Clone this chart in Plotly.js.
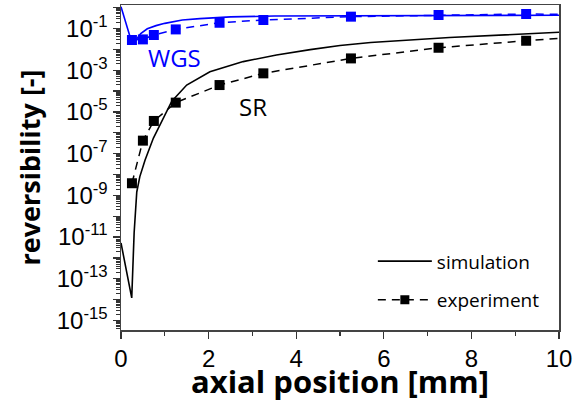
<!DOCTYPE html>
<html>
<head>
<meta charset="utf-8">
<script src="https://cdn.plot.ly/plotly-3.0.1.min.js"></script>
<style>html,body{margin:0;padding:0;background:#fff;}#chart{width:575px;height:402px;}</style>
</head>
<body>
<div id="chart"></div>
<script>
// WGS (blue)
var wgsSimX = [0, 0.26, 0.33, 0.45, 0.6, 0.8, 1.0, 1.4, 1.8, 2.5, 3.5, 5, 7, 10];
var wgsSimY = [1.12, 0.017, 0.026, 0.058, 0.098, 0.138, 0.178, 0.257, 0.30, 0.363, 0.398, 0.41, 0.42, 0.435];
var wgsExpX = [0.25, 0.5, 0.75, 1.25, 2.25, 3.25, 5.25, 7.25, 9.25, 10];
var wgsExpY = [0.0282, 0.0302, 0.049, 0.091, 0.19, 0.257, 0.372, 0.447, 0.50, 0.48];
// SR (black)
var srSimX = [0, 0.245, 0.3, 0.36, 0.43, 0.55, 0.74, 0.97, 1.16, 1.5, 2.03, 2.79, 3.55, 4.32, 5.0, 5.7, 7.5, 10];
var srSimY = [5.2e-12, 1.2e-14, 1.6e-11, 1.45e-9, 7.9e-9, 5.0e-8, 5.6e-7, 5.1e-6, 3.3e-5, 1.95e-4, 8.5e-4, 2.6e-3, 5.4e-3, 9.8e-3, 1.53e-2, 2.14e-2, 3.7e-2, 6.6e-2];
var srExpX = [0.25, 0.5, 0.75, 1.25, 2.25, 3.25, 5.25, 7.25, 9.25, 10];
var srExpY = [3.8e-9, 4.2e-7, 3.7e-6, 2.8e-5, 1.95e-4, 7.1e-4, 3.7e-3, 1.2e-2, 2.6e-2, 3.4e-2];
// which experiment points carry a marker (last point is only the dashed line end)
var expHasMarker = [1, 1, 1, 1, 1, 1, 1, 1, 1, 0];
// y tick labels
var yTickExp = [0, -1, -2, -3, -4, -5, -6, -7, -8, -9, -10, -11, -12, -13, -14, -15];
var yTickLabel = ['', '10<sup>-1</sup>', '', '10<sup>-3</sup>', '', '10<sup>-5</sup>', '', '10<sup>-7</sup>', '', '10<sup>-9</sup>', '', '10<sup>-11</sup>', '', '10<sup>-13</sup>', '', '10<sup>-15</sup>'];

var BLUE = '#0000ff';
var msz = expHasMarker.map(function (m) { return m ? 10 : 0; });
var yTickVals = yTickExp.map(function (e) { return Math.pow(10, e); });
var minorVals = [];
for (var k = -16; k <= 0; k++) { for (var m = 2; m <= 9; m++) { minorVals.push(m * Math.pow(10, k)); } }

var traces = [
  {x: srSimX, y: srSimY, mode: 'lines', name: 'simulation', line: {color: '#000', width: 1.6}, legendgroup: 'a'},
  {x: srExpX, y: srExpY, mode: 'lines+markers', name: 'experiment', line: {color: '#000', width: 1.5, dash: '8px,6px'},
   marker: {symbol: 'square', size: msz, color: '#000', opacity: 1, line: {width: 0}}, legendgroup: 'b'},
  {x: wgsSimX, y: wgsSimY, mode: 'lines', name: 'WGS simulation', showlegend: false, line: {color: BLUE, width: 1.6}},
  {x: wgsExpX, y: wgsExpY, mode: 'lines+markers', name: 'WGS experiment', showlegend: false,
   line: {color: BLUE, width: 1.5, dash: '8px,6px'}, marker: {symbol: 'square', size: msz, color: BLUE, opacity: 1, line: {width: 0}}}
];

var tickFont = {family: 'Liberation Sans, Arial, sans-serif', size: 24, color: '#000'};
var layout = {
  width: 575, height: 402,
  margin: {l: 121, r: 16, t: 5, b: 72},
  paper_bgcolor: '#fff', plot_bgcolor: '#fff',
  showlegend: true,
  legend: {x: 0.575, xanchor: 'left', y: 0.27, yanchor: 'top', bgcolor: 'rgba(0,0,0,0)',
           font: {family: 'Open Sans, sans-serif', size: 19, color: '#000'}, tracegroupgap: 11, traceorder: 'grouped', itemwidth: 54},
  xaxis: {
    range: [0, 10], dtick: 2, tick0: 0, ticks: 'outside', ticklen: 7, tickwidth: 1.3, tickcolor: '#333',
    minor: {dtick: 1, ticks: 'outside', ticklen: 4, tickcolor: '#333', tickwidth: 1.2},
    showline: true, linecolor: '#444', linewidth: 1.5, mirror: true, showgrid: false, zeroline: false,
    tickfont: tickFont,
    title: {text: 'axial position [mm]', font: {family: 'Open Sans, sans-serif', size: 31, weight: 700, color: '#000'}, standoff: 3}
  },
  yaxis: {
    type: 'log', range: [-15.46, 0.13],
    tickmode: 'array', tickvals: yTickVals, ticktext: yTickLabel,
    ticks: 'outside', ticklen: 7, tickwidth: 1.3, tickcolor: '#333',
    minor: {tickmode: 'array', tickvals: minorVals, ticks: 'outside', ticklen: 4, tickcolor: '#333', tickwidth: 1},
    showline: true, linecolor: '#444', linewidth: 1.5, mirror: true, showgrid: false, zeroline: false,
    tickfont: tickFont,
    title: {text: 'reversibility [-]', font: {family: 'Open Sans, sans-serif', size: 27, weight: 700, color: '#000'}, standoff: 8}
  },
  annotations: [
    {xref: 'paper', yref: 'paper', x: 0.123, y: 0.837, xanchor: 'center', yanchor: 'middle', text: 'WGS', showarrow: false,
     font: {family: 'Open Sans, sans-serif', size: 24, color: BLUE}},
    {xref: 'paper', yref: 'paper', x: 0.301, y: 0.689, xanchor: 'center', yanchor: 'middle', text: 'SR', showarrow: false,
     font: {family: 'Open Sans, sans-serif', size: 24, color: '#000'}}
  ]
};
Plotly.newPlot('chart', traces, layout, {displayModeBar: false, staticPlot: true});
</script>
</body>
</html>
